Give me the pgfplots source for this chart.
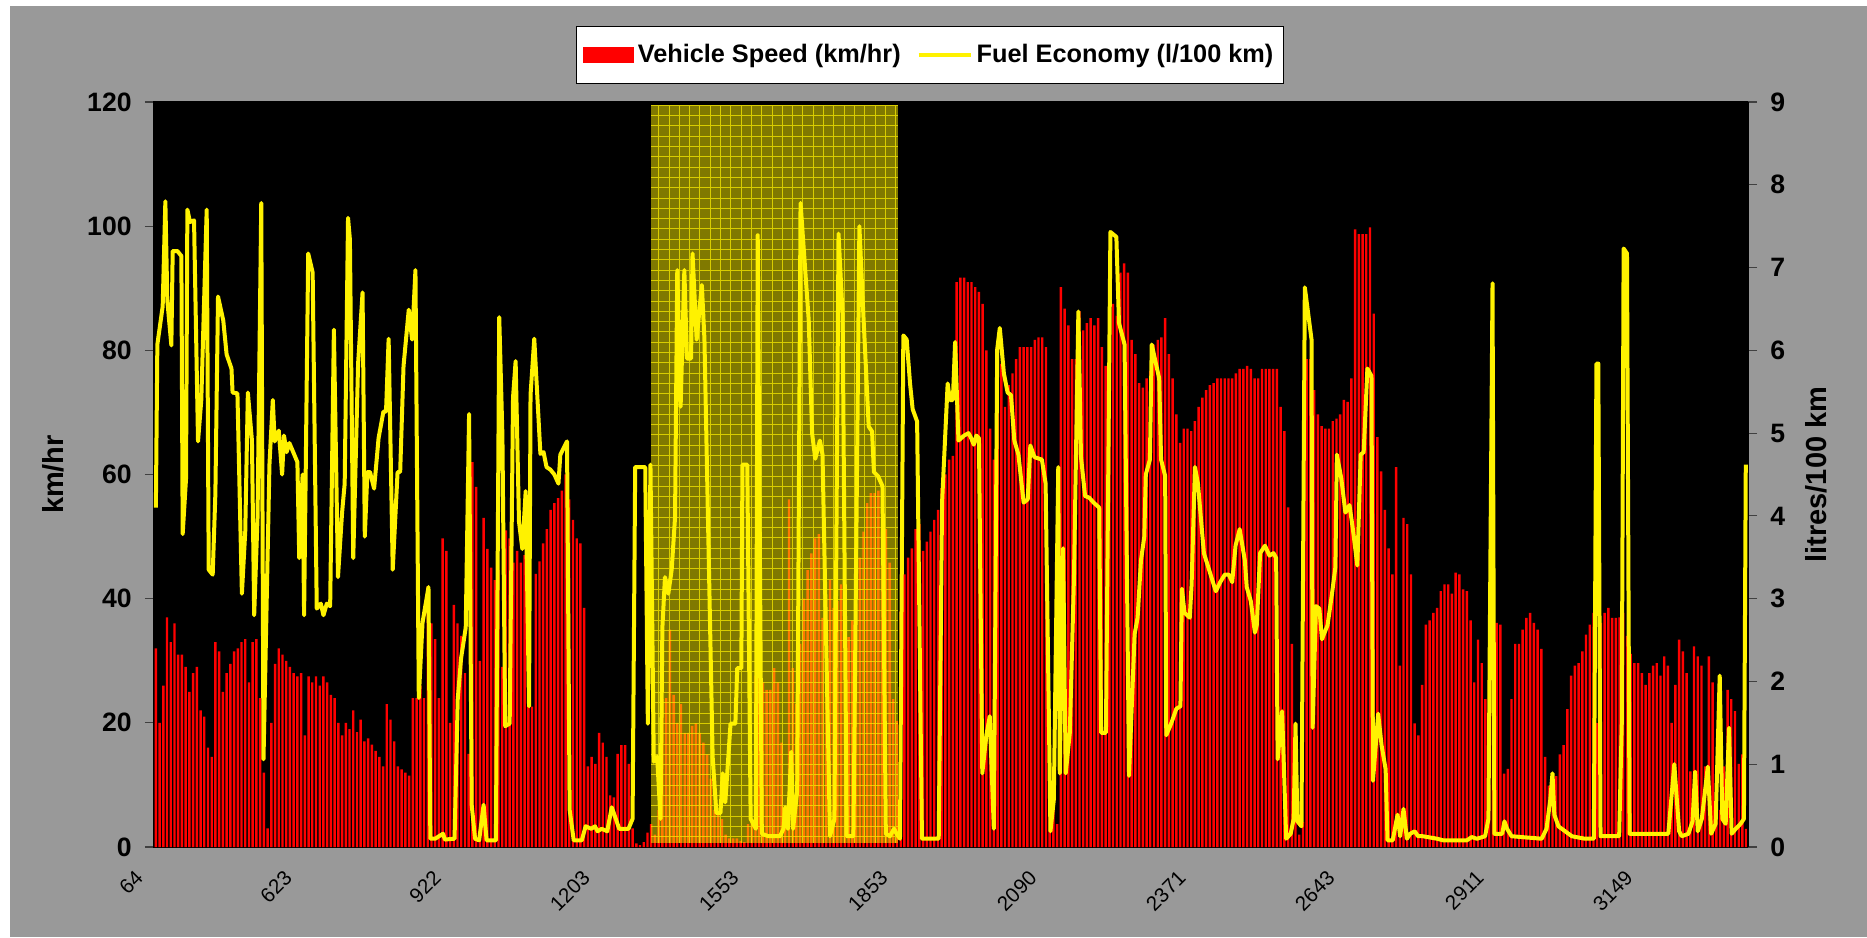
\documentclass[border=0pt]{standalone}
\usepackage{pgfplots}
\pgfplotsset{compat=1.18}
\usepackage{fontspec}
\setmainfont{Liberation Sans}
\definecolor{bggrey}{RGB}{153,153,153}
\definecolor{tickgrey}{RGB}{64,64,64}
\begin{document}
\begin{tikzpicture}
\fill[white] (-77pt,-45pt) rectangle (856.5pt,423.5pt);
\fill[bggrey] (-72pt,-45pt) rectangle (856.5pt,420.5pt);
\begin{axis}[
  scale only axis, width=797pt, height=372.5pt,
  xmin=-0.5, xmax=427.5, ymin=0, ymax=120,
  axis background/.style={fill=black},
  axis line style={black, line width=0.6pt},
  xtick={0,40,...,400},
  xticklabels={64,623,922,1203,1553,1853,2090,2371,2643,2911,3149},
  xtick style={draw=none},
  ytick={0,20,...,120},
  ytick pos=left, xtick pos=bottom,
  tick align=outside, major tick length=4.5pt,
  ytick style={tickgrey, line width=0.6pt},
  /pgf/number format/assume math mode=true,
  yticklabel style={font=\bfseries\fontsize{13.3}{15}\selectfont, inner sep=0pt, xshift=-6.5pt},
  xticklabel style={font=\fontsize{10.3}{11}\selectfont, inner sep=0pt, xshift=-8.2pt, yshift=-9.2pt, rotate=45, anchor=east},
  ylabel={km/hr},
  every axis y label/.style={at={(axis description cs:-0.0634,0.5)}, rotate=90, anchor=center, font=\bfseries\fontsize{14.5}{16}\selectfont},
]
\addplot[ybar, bar width=0.65, fill=red, draw=none] coordinates {
(0,32)(1,20)(2,26)(3,37)(4,33)(5,36)(6,31)(7,31)(8,29)(9,25)(10,28)(11,29)(12,22)(13,21)(14,16)(15,14.5)(16,33)(17,31.5)(18,25)(19,28)(20,29.5)(21,31.5)(22,32)(23,33)(24,33.5)(25,26.5)(26,33)(27,33.5)(28,24)(29,12)(30,3)(31,20)(32,29.5)(33,32)(34,31)(35,30)(36,29)(37,28)(38,27.5)(39,28)(40,18)(41,27.5)(42,26.5)(43,27.5)(44,26)(45,27.5)(46,26.5)(47,24.5)(48,24)(49,20)(50,18)(51,20)(52,19)(53,22)(54,18.5)(55,20.5)(56,17)(57,17.5)(58,16.5)(59,15.5)(60,14.5)(61,13)(62,23)(63,20.5)(64,17)(65,13)(66,12.5)(67,12)(68,11.5)(69,24)(70,24)(71,26)(72,24)(73,42)(74,36)(75,33.5)(76,24)(77,49.7)(78,47.7)(79,20)(80,39)(81,36)(82,34)(83,28)(84,15)(85,62)(86,58)(87,30)(88,53)(89,48)(90,45)(91,43)(92,44.6)(93,29)(94,51)(95,49.7)(96,45.8)(97,47.7)(98,45.8)(99,47)(100,45)(101,22.6)(102,44)(103,46)(104,48.9)(105,51.2)(106,54.3)(107,55.4)(108,56.2)(109,57.4)(110,60)(111,56)(112,52.7)(113,49.7)(114,48.9)(115,38.5)(116,13)(117,14.5)(118,13.4)(119,18.4)(120,16.8)(121,14.5)(122,8.3)(123,8)(124,15)(125,16.4)(126,16.4)(127,13.4)(128,3)(129,0.6)(130,0.3)(131,0.8)(132,2.3)(133,3.7)(134,2)(135,6)(136,23.8)(137,24)(138,35)(139,24.5)(140,20)(141,23)(142,18.4)(143,18.4)(144,19.5)(145,19.9)(146,18.4)(147,16.8)(148,14.9)(149,11)(150,6)(151,5.3)(152,4.5)(153,2)(154,1.4)(155,1.4)(156,1.4)(157,1)(158,0.8)(159,3.7)(160,4.5)(161,27.6)(162,27.6)(163,26.5)(164,25.3)(165,25.3)(166,28.8)(167,26.5)(168,16.8)(169,6)(170,56)(171,28.8)(172,23)(173,32.7)(174,40)(175,44.6)(176,47.3)(177,49.7)(178,50.4)(179,36.9)(180,40)(181,43)(182,38.5)(183,39.6)(184,42.3)(185,40)(186,33.8)(187,36.5)(188,39.2)(189,46.6)(190,50.8)(191,55.4)(192,57)(193,57)(194,57.4)(195,50.8)(196,51.2)(197,45.8)(198,23.8)(199,20.3)(200,38)(201,43.9)(202,46.6)(203,48.1)(204,51.2)(205,52)(206,47.7)(207,49.2)(208,50.8)(209,52.7)(210,54.3)(211,57.8)(212,60)(213,62.4)(214,63)(215,91)(216,91.7)(217,91.7)(218,91)(219,91)(220,90.2)(221,89.4)(222,87.5)(223,80)(224,67.4)(225,62.4)(226,80.5)(227,77.8)(228,70.9)(229,74.4)(230,76.3)(231,78.6)(232,80.5)(233,80.5)(234,80.5)(235,80.5)(236,81.7)(237,82.1)(238,82.1)(239,80.5)(240,19.9)(241,6.8)(242,3.7)(243,90.2)(244,86.7)(245,84)(246,78.6)(247,78.6)(248,86.3)(249,83.2)(250,84.4)(251,85.2)(252,84)(253,85.2)(254,80.5)(255,77.5)(256,83)(257,87.5)(258,85.6)(259,92.5)(260,94)(261,92.5)(262,81.7)(263,79.4)(264,74.7)(265,74)(266,75.5)(267,76.7)(268,80.9)(269,81.7)(270,82.1)(271,85.2)(272,79.4)(273,75.5)(274,69.7)(275,65.1)(276,67.4)(277,67.4)(278,67)(279,68.6)(280,70.9)(281,72.4)(282,73.6)(283,74.4)(284,74.7)(285,75.5)(286,75.5)(287,75.5)(288,75.5)(289,75.5)(290,76.3)(291,77)(292,77)(293,77.5)(294,77)(295,75.5)(296,75.5)(297,77)(298,77)(299,77)(300,77)(301,77)(302,70.9)(303,67)(304,54.7)(305,32.7)(306,4.5)(307,2)(308,4)(309,78.6)(310,78.6)(311,73.6)(312,69.7)(313,67.8)(314,67.4)(315,67.4)(316,68.6)(317,69)(318,69.7)(319,72)(320,71.7)(321,75.5)(322,99.5)(323,98.7)(324,98.7)(325,98.7)(326,99.8)(327,85.9)(328,66)(329,60.5)(330,54.3)(331,48.1)(332,43.9)(333,61.2)(334,29.2)(335,53)(336,52)(337,43.9)(338,19.9)(339,18)(340,26.1)(341,35.8)(342,36.5)(343,37.7)(344,38.5)(345,41.2)(346,42.3)(347,42.3)(348,40.8)(349,44.2)(350,43.9)(351,41.5)(352,41.2)(353,36.5)(354,26.5)(355,33.4)(356,29.6)(357,23.8)(358,10)(359,36.1)(360,36.1)(361,35.8)(362,11.8)(363,12.6)(364,23.8)(365,32.7)(366,32.7)(367,35)(368,36.9)(369,37.7)(370,36.1)(371,35)(372,31.9)(373,14.5)(374,9.9)(375,9.1)(376,11.4)(377,14.9)(378,16.4)(379,22.2)(380,27.6)(381,29.2)(382,29.6)(383,31.5)(384,34.2)(385,35.8)(386,37.7)(387,20)(388,36.1)(389,37.7)(390,38.5)(391,36.9)(392,36.9)(393,37)(394,37.7)(395,34)(396,31.1)(397,29.6)(398,29.6)(399,28)(400,26.1)(401,28)(402,29.2)(403,29.6)(404,27.6)(405,30.7)(406,29.2)(407,20)(408,26.1)(409,33.4)(410,31.5)(411,28)(412,12.2)(413,32.3)(414,30.7)(415,29.2)(416,13)(417,30.7)(418,26.5)(419,9.9)(420,6)(421,13)(422,25.3)(423,23.8)(424,21.9)(425,13.4)(426,14.9)(427,2.9)
};
\fill[yellow, fill opacity=0.5] (axis cs:132.96,0.64) rectangle (axis cs:199.28,119.5);
\draw[yellow, opacity=0.7, line width=0.5pt, step=5.15pt] (axis cs:132.96,0.64) grid (axis cs:199.28,119.5);
\end{axis}
\begin{axis}[
  scale only axis, width=797pt, height=372.5pt,
  xmin=-0.5, xmax=427.5, ymin=0, ymax=9,
  axis x line=none, axis y line*=right,
  axis line style={black, line width=0.6pt},
  ytick={0,1,...,9},
  tick align=outside, major tick length=4.5pt,
  ytick style={tickgrey, line width=0.6pt},
  /pgf/number format/assume math mode=true,
  yticklabel style={font=\bfseries\fontsize{13.3}{15}\selectfont, inner sep=0pt, xshift=6.5pt},
  ylabel={litres/100 km},
  every axis y label/.style={at={(axis description cs:1.0427,0.5)}, rotate=90, anchor=center, font=\bfseries\fontsize{14.5}{16}\selectfont},
  legend style={at={(axis description cs:0.4868,1.063)}, anchor=center, draw=black, line width=0.6pt, fill=white,
    font=\bfseries\fontsize{12.65}{14}\selectfont, legend columns=2, inner xsep=3pt, inner ysep=7pt,
    /tikz/every even column/.append style={column sep=6pt}},
  legend cell align=left,
]
\addlegendimage{legend image code/.code={\fill[red] (0pt,-3.5pt) rectangle (25pt,3.5pt);}}
\addlegendentry{Vehicle Speed (km/hr)}
\addlegendimage{legend image code/.code={\draw[yellow, line width=2pt] (0pt,0pt) -- (26pt,0pt);}}
\addlegendentry{Fuel Economy (l/100 km)}
\addplot[yellow, line width=2pt, line join=round, mark=none, forget plot] coordinates {
(0,4.1)(0.4,6.07)(1.83,6.53)(2.55,7.8)(3.08,6.6)(4.16,6.06)(4.52,7.2)(5.77,7.2)(6.85,7.14)(7.2,3.78)(8.1,4.45)(8.46,7.7)(9.17,7.55)(10.25,7.57)(11.32,4.9)(12.2,5.4)(13.65,7.7)(14.19,3.35)(15.26,3.29)(15.98,4.27)(16.69,6.65)(18.1,6.36)(19.0,5.95)(20.3,5.78)(20.6,5.49)(21.9,5.48)(23.1,3.06)(24.0,3.81)(24.7,5.49)(25.8,4.91)(26.4,2.8)(27.3,3.98)(28.3,7.78)(28.9,1.06)(30.5,4.62)(31.4,5.4)(31.9,4.9)(33.0,5.03)(33.9,4.5)(34.4,4.97)(35.1,4.77)(35.85,4.88)(36.7,4.79)(38.0,4.65)(38.5,3.49)(39.4,4.5)(39.8,2.8)(40.9,7.17)(42.1,6.94)(43.2,2.88)(44.3,2.94)(45.0,2.8)(45.9,2.94)(46.8,2.91)(47.8,6.25)(48.9,3.26)(50.0,4.04)(50.7,4.39)(51.6,7.6)(52.1,7.34)(53.0,3.49)(54.3,5.84)(55.5,6.7)(56.1,3.75)(56.8,4.53)(57.5,4.53)(58.6,4.33)(59.8,4.94)(61.1,5.26)(61.8,5.26)(62.5,6.14)(63.6,3.35)(64.9,4.53)(65.6,4.53)(66.5,5.81)(67.9,6.49)(68.8,6.13)(69.7,6.97)(70.6,1.8)(71.6,2.71)
(73.2,3.14)(73.7,0.1)(75,0.1)(76,0.13)(77.1,0.16)(77.6,0.09)(80.2,0.1)(81.05,1.78)(81.95,2.28)(83.2,2.65)(84.1,5.23)(84.8,0.51)(85.7,0.1)(86.8,0.08)(88.0,0.51)(88.8,0.08)(91.3,0.08)(92.2,6.4)(93.05,4.97)(93.8,1.46)(95,1.49)(95.9,5.43)(96.6,5.87)(97.5,3.93)(98.4,3.6)(99.3,4.3)(100.2,1.7)(100.6,5.46)(101.6,6.14)(103.25,4.75)(104.1,4.77)(104.9,4.59)(105.9,4.56)(107,4.5)(108.1,4.39)(108.6,4.74)(109.5,4.82)(110.4,4.9)(111.1,0.45)(112.2,0.08)(114.35,0.08)(115.4,0.25)(116.9,0.22)(117.9,0.25)(118.6,0.19)(119.7,0.22)(121.2,0.19)(122.4,0.48)(123.5,0.34)(124.4,0.22)(126.9,0.22)(128,0.34)(128.7,4.59)(131.4,4.59)(132.1,1.49)(132.8,4.62)(133.7,1.03)(134.6,1.09)(135.5,0.34)(136,2.65)(136.7,3.26)(137.6,3.06)(138.5,3.35)(139.4,3.98)(140,6.97)(140.9,5.32)(141.9,6.97)(142.6,5.9)
(143.7,5.9)(144.1,7.17)(145.2,6.13)(146.6,6.79)(147.3,6.13)(149.5,1.09)(150.5,0.41)(151.6,0.41)(152.2,0.89)(152.9,0.54)(154.3,1.49)(155.6,1.49)(156.1,2.16)(157.2,2.16)(157.5,4.62)(158.8,4.62)(159.7,0.34)(161.1,0.22)(161.6,7.39)(162.7,0.16)(164.5,0.13)(167.6,0.13)(168.5,0.22)(169,0.48)(169.7,0.22)(170.6,1.15)(171.1,0.22)(172.2,0.68)(173.1,7.78)(175.3,6.36)(176.2,5.0)(177.05,4.69)(178.3,4.91)(179,4.74)(181,0.13)(182.2,0.34)(183.3,7.41)(184.4,6.42)(185.5,0.13)(187.3,0.13)(188.9,7.5)(189.8,6.59)(191.4,5.08)(192.3,5.02)(192.8,4.53)(193.9,4.48)(195.1,4.36)(196.0,0.16)(197.1,0.13)(198.2,0.22)(198.9,0.16)(199.8,0.1)(200.7,6.18)(201.6,6.13)(202.5,5.6)(203.2,5.29)(204.4,5.14)(205.7,0.1)(210.2,0.1)(211.1,4.16)
(212.6,5.6)(213.2,5.4)(214.0,5.4)(214.6,6.1)(215.5,4.91)(217,4.97)(218.2,5.0)(218.9,4.94)(219.6,4.86)(220.3,4.97)(221,4.94)(221.9,0.89)(223,1.35)(223.9,1.58)(225,0.22)(225.9,6.01)(226.6,6.27)(227.7,5.72)(228.7,5.49)(229.6,5.46)(230.5,4.91)(231.6,4.74)(233,4.16)(234.1,4.2)(234.8,4.85)(235.9,4.71)(237.9,4.68)(238.9,4.39)(240.2,0.19)(241.1,0.57)(242.3,4.59)(242.7,0.89)(243.6,3.61)(244.3,0.89)(245.4,1.38)(246.5,3.23)(247.7,6.47)(248.4,4.71)(249.5,4.24)(250.6,4.22)(251.8,4.16)(253.3,4.1)(253.8,1.38)(255.1,1.38)(256.3,7.43)(257.9,7.37)(258.6,6.33)(260.1,6.07)(261.3,0.86)(262.8,2.57)(263.6,2.77)(264.5,3.46)(265.4,3.75)(265.8,4.5)(266.9,4.68)(267.4,6.07)(269.4,5.66)(269.9,4.68)(271,4.48)(271.3,1.35)(272.6,1.49)(274,1.67)(275.1,1.7)(275.5,3.12)(276.2,2.83)(277.6,2.77)(278.1,3.17)(279,4.59)(279.8,4.39)(281.4,3.55)(283.2,3.29)(284.6,3.09)
(285.8,3.2)(287,3.29)(288.1,3.29)(289,3.2)(289.9,3.64)(291,3.84)(292.4,3.46)(292.9,3.14)(294,2.97)(295.1,2.59)(295.6,2.68)(296.5,3.55)(297.8,3.64)(299,3.52)(300.1,3.55)(300.8,3.49)(301.2,1.06)(302.4,1.64)(303.5,0.1)(304.7,0.16)(305.5,0.34)(306,1.49)(306.5,0.31)(307.6,0.25)(308.5,6.76)(310.3,6.13)(310.6,1.44)(311.5,2.91)(312.4,2.88)(313.1,2.51)(314.6,2.68)(315.8,3.06)(316.7,3.38)(317.1,4.74)(318.3,4.45)(319.4,4.04)(320.5,4.13)(321.4,3.84)(322.6,3.4)(323.5,4.74)(324.3,4.77)(325.3,5.78)(326.4,5.69)(326.8,0.8)(328.2,1.61)(329.1,1.23)(330.2,0.94)(330.7,0.08)(332.1,0.08)(333.4,0.39)(334.1,0.13)(335,0.46)(335.9,0.1)(336.8,0.16)(338,0.19)(338.9,0.13)(340.2,0.13)(344,0.1)(345.7,0.08)(352,0.08)(353.3,0.12)(354.7,0.1)
(356.9,0.13)(357.8,0.34)(358.9,6.81)(359.4,0.16)(361.5,0.16)(362.1,0.31)(362.8,0.22)(364,0.13)(372.1,0.1)(373.4,0.22)(374.4,0.57)(375,0.89)(375.5,0.39)(376.6,0.25)(378.4,0.19)(380.2,0.13)(383.7,0.1)(386.1,0.1)(386.8,5.84)(387.3,5.84)(387.9,0.13)(392.9,0.13)(393.6,1.49)(394.1,7.23)(395,7.17)(395.7,0.16)(406.1,0.16)(407,0.63)(407.7,1.0)(409,0.19)(409.7,0.13)(411.5,0.16)(412.6,0.31)(413.3,0.91)(414,0.19)(415.1,0.34)(416.7,0.97)(417.6,0.16)(418.8,0.28)(419.9,2.07)(420.6,0.34)(421.5,0.28)(422.4,1.44)(423.1,0.16)(424.2,0.22)(425.5,0.28)(426.4,0.34)(426.9,4.62)
};
\end{axis}
\pgfresetboundingbox
\useasboundingbox (-77pt,-45pt) rectangle (856.5pt,423.5pt);
\end{tikzpicture}
\end{document}
